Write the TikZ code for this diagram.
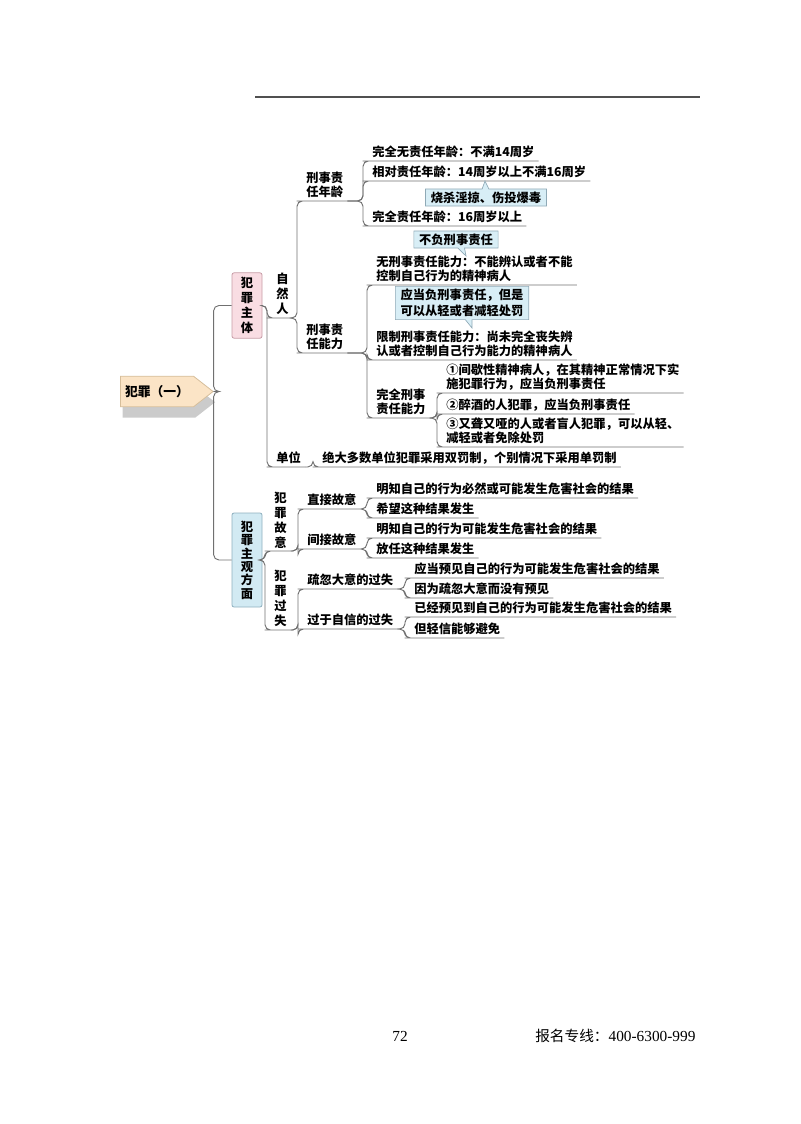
\documentclass[tikz,border=0pt]{standalone}
\usepackage{fontspec}
\setmainfont{Noto Sans CJK SC}
\newfontfamily\numfont{Liberation Serif}
\usepackage{tikz}
\usetikzlibrary{calc}
\usetikzlibrary{positioning}
\usetikzlibrary{shapes.symbols,shapes.callouts,shadows}

\definecolor{linegray}{HTML}{707070}
\definecolor{rulegray}{HTML}{505050}
\definecolor{pinkfill}{HTML}{F9DDE3}
\definecolor{pinkline}{HTML}{C79CA6}
\definecolor{bluefill}{HTML}{D2EAF3}
\definecolor{blueline}{HTML}{8EAFBE}
\definecolor{callfill}{HTML}{D8EEF6}
\definecolor{callline}{HTML}{8FA9B6}
\definecolor{rootfill}{HTML}{FBE4C6}
\definecolor{rootline}{HTML}{D6BE9B}

\newcommand\mapfont{\fontsize{9.2}{10.5}\selectfont\bfseries}

\tikzset{
  topic/.style={anchor=south west,inner xsep=3pt,inner ysep=2pt,align=left,font=\mapfont},
  vtopic/.style={topic,align=center,font=\fontsize{9.2}{11.25}\selectfont\bfseries},
  conn/.style={draw=linegray,line width=0.7pt,rounded corners=4pt},
  mainbox/.style={rectangle,rounded corners=1.5pt,line width=0.6pt,minimum width=22.5pt,inner sep=1pt,align=center,font=\fontsize{9.2}{11.25}\selectfont\bfseries},
  callnote/.style={rectangle callout,fill=callfill,draw=callline,line width=0.5pt,inner xsep=4pt,inner ysep=2pt,callout pointer width=5pt,font=\fontsize{9.2}{12}\selectfont\bfseries},
  root/.style={signal,signal to=east,signal pointer angle=76,fill=rootfill,draw=rootline,line width=0.6pt,minimum width=69pt,minimum height=23pt,font=\fontsize{9.6}{11}\selectfont\bfseries,
    drop shadow={shadow xshift=1.5pt,shadow yshift=-8pt,fill=black!45,opacity=.45}}
}

\begin{document}
\begin{tikzpicture}[x=0.75pt,y=-0.75pt]
  \useasboundingbox (0,0) rectangle (800,1124);
  %page rule
  \coordinate (ruleL) at (255,97);
  \coordinate (ruleR) at (700,97);
  \draw[line width=1.5pt,rulegray] (ruleL)--(ruleR);
  %root and the two main boxes
  \node[root] (root) at (157,391.5) {犯罪（一）};
  \node[mainbox,fill=pinkfill,draw=pinkline,minimum height=49pt] (zhuti) at (247,305.5) {犯\\罪\\主\\体};
  \node[mainbox,fill=bluefill,draw=blueline,minimum height=70.5pt,font=\fontsize{9.2}{10}\selectfont\bfseries] (zhuguan) at (247,560) {犯\\罪\\主\\观\\方\\面};
  \draw[conn] (root.east) -| ($(zhuti.west)+(-18,0)$) -- (zhuti.west);
  \draw[conn] (root.east) -| ($(zhuguan.west)+(-18,0)$) -- (zhuguan.west);
  %criminal subject
  \node[vtopic] (ziran) at (272,318) {自\\然\\人};
  \node[topic,align=center] (nianling) at (302,201) {刑事责\\任年龄};
  \node[topic,align=center] (nengli) at (302,353) {刑事责\\任能力};
  \node[topic] (age1) at (368,161) {完全无责任年龄：不满14周岁};
  \node[topic] (age2) at (368,181) {相对责任年龄：14周岁以上不满16周岁};
  \node[topic] (age3) at (368,226) {完全责任年龄：16周岁以上};
  \node[topic] (cap1) at (372,285) {无刑事责任能力：不能辨认或者不能\\控制自己行为的精神病人};
  \node[topic] (cap2) at (372,360) {限制刑事责任能力：尚未完全丧失辨\\认或者控制自己行为能力的精神病人};
  \node[topic] (cap3) at (372,418) {完全刑事\\责任能力};
  \node[topic] (full1) at (442,393) {①间歇性精神病人，在其精神正常情况下实\\施犯罪行为，应当负刑事责任};
  \node[topic] (full2) at (442,414) {②醉酒的人犯罪，应当负刑事责任};
  \node[topic] (full3) at (442,447) {③又聋又哑的人或者盲人犯罪，可以从轻、\\减轻或者免除处罚};
  \node[topic] (danwei) at (272,467) {单位};
  \node[topic] (danwei1) at (318,467) {绝大多数单位犯罪采用双罚制，个别情况下采用单罚制};
  %subjective aspect
  \node[vtopic] (guyi) at (270,551) {犯\\罪\\故\\意};
  \node[vtopic] (guoshi) at (270,630) {犯\\罪\\过\\失};
  \node[topic] (zhijie) at (303,509) {直接故意};
  \node[topic] (jianjie) at (303,549) {间接故意};
  \node[topic] (shuhu) at (303,589) {疏忽大意的过失};
  \node[topic] (zixin) at (303,629) {过于自信的过失};
  \node[topic] (zj1) at (372,498) {明知自己的行为必然或可能发生危害社会的结果};
  \node[topic] (zj2) at (372,518) {希望这种结果发生};
  \node[topic] (jj1) at (372,538) {明知自己的行为可能发生危害社会的结果};
  \node[topic] (jj2) at (372,558) {放任这种结果发生};
  \node[topic] (sh1) at (410,578) {应当预见自己的行为可能发生危害社会的结果};
  \node[topic] (sh2) at (410,598) {因为疏忽大意而没有预见};
  \node[topic] (zx1) at (410,617) {已经预见到自己的行为可能发生危害社会的结果};
  \node[topic] (zx2) at (410,638) {但轻信能够避免};
  %connectors with underlines
  \foreach \a/\b in {zhuti/ziran,zhuti/danwei,zhuguan/guyi,zhuguan/guoshi}
    \draw[conn] (\a.east) -| ($(\b.south west)+(-5,0)$) -- (\b.south west) -- (\b.south east);
  \foreach \a/\b in {ziran/nianling,ziran/nengli,nianling/age1,nianling/age2,nianling/age3,
      nengli/cap1,nengli/cap2,nengli/cap3,cap3/full1,cap3/full2,cap3/full3,danwei/danwei1,
      guyi/zhijie,guyi/jianjie,guoshi/shuhu,guoshi/zixin,zhijie/zj1,zhijie/zj2,
      jianjie/jj1,jianjie/jj2,shuhu/sh1,shuhu/sh2,zixin/zx1,zixin/zx2}
    \draw[conn] (\a.south east) -| ($(\b.south west)+(-5,0)$) -- (\b.south west) -- (\b.south east);
  %callouts
  \node[callnote,callout absolute pointer={(485,181)}] (shasha) at (486,197.5) {烧杀淫掠、伤投爆毒};
  \node[callnote,callout absolute pointer={(466,256)}] (bufu) at (456,239.5) {不负刑事责任};
  \node[callnote,align=left,callout absolute pointer={(472,328)}] (yingdang) at (462,303) {应当负刑事责任，但是\\可以从轻或者减轻处罚};
  %footer
  \node[font=\numfont\fontsize{11.5}{12}\selectfont] (pageno) at (400,1036) {72};
  \node[anchor=west,inner sep=0pt,font=\fontsize{11}{12}\selectfont] (hotline) at (535,1036) {报名专线：{\numfont\fontsize{11.5}{12}\selectfont 400-6300-999}};
\end{tikzpicture}
\end{document}
